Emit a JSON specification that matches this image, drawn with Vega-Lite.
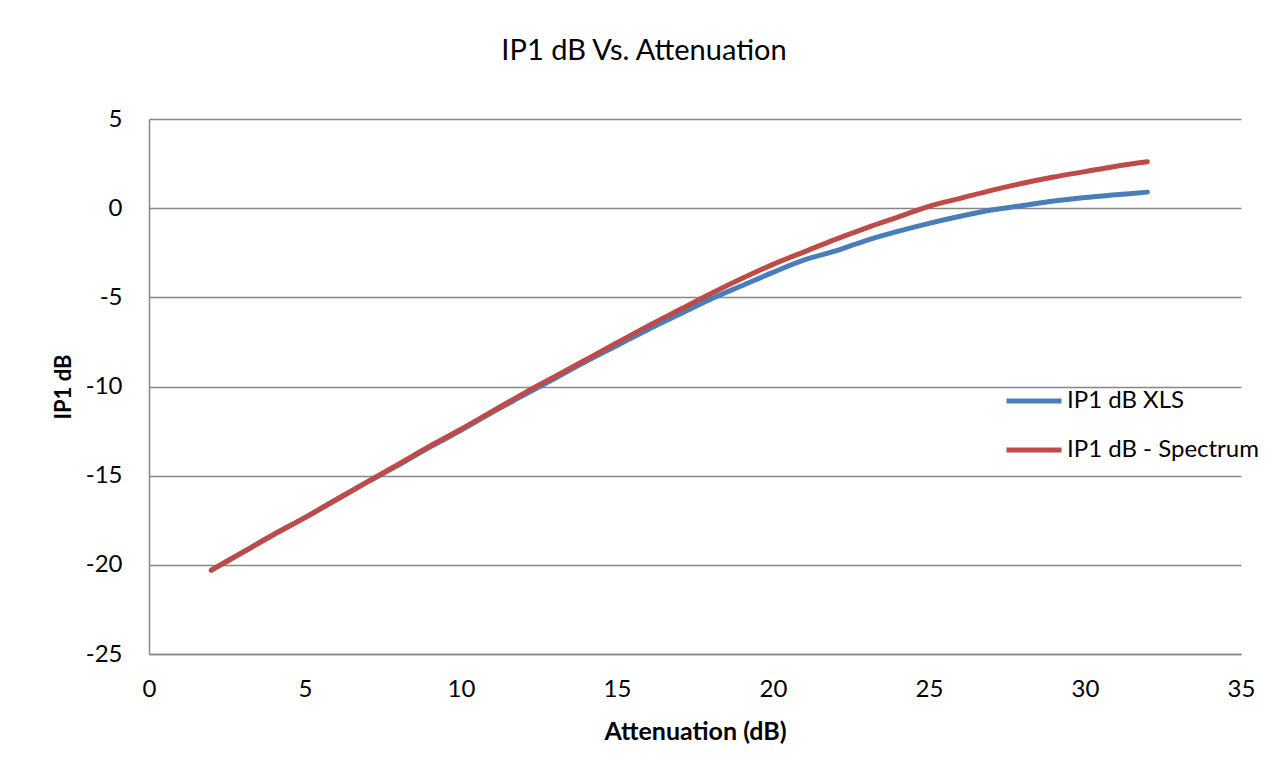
{
  "$schema": "https://vega.github.io/schema/vega-lite/v6.json",
  "width": 1092,
  "height": 535,
  "autosize": "none",
  "padding": {"left": 149, "top": 119, "right": 46, "bottom": 115},
  "background": "white",
  "title": {"text": "IP1 dB Vs. Attenuation", "font": "Lato", "fontSize": 29, "fontWeight": "normal", "color": "#000000", "anchor": "middle", "dx": -51, "offset": 41},
  "config": {
    "view": {"stroke": null},
    "axis": {"labelFont": "Lato", "titleFont": "Lato", "labelColor": "#000000", "titleColor": "#000000", "labelFlush": false}
  },
  "data": {"values": [
    {"x": 2, "y": -20.3, "s": "IP1 dB XLS"},
    {"x": 3, "y": -19.3, "s": "IP1 dB XLS"},
    {"x": 4, "y": -18.3, "s": "IP1 dB XLS"},
    {"x": 5, "y": -17.35, "s": "IP1 dB XLS"},
    {"x": 6, "y": -16.35, "s": "IP1 dB XLS"},
    {"x": 7, "y": -15.35, "s": "IP1 dB XLS"},
    {"x": 8, "y": -14.4, "s": "IP1 dB XLS"},
    {"x": 9, "y": -13.4, "s": "IP1 dB XLS"},
    {"x": 10, "y": -12.45, "s": "IP1 dB XLS"},
    {"x": 11, "y": -11.45, "s": "IP1 dB XLS"},
    {"x": 12, "y": -10.5, "s": "IP1 dB XLS"},
    {"x": 13, "y": -9.55, "s": "IP1 dB XLS"},
    {"x": 14, "y": -8.6, "s": "IP1 dB XLS"},
    {"x": 15, "y": -7.7, "s": "IP1 dB XLS"},
    {"x": 16, "y": -6.8, "s": "IP1 dB XLS"},
    {"x": 17, "y": -5.95, "s": "IP1 dB XLS"},
    {"x": 18, "y": -5.1, "s": "IP1 dB XLS"},
    {"x": 19, "y": -4.35, "s": "IP1 dB XLS"},
    {"x": 20, "y": -3.6, "s": "IP1 dB XLS"},
    {"x": 21, "y": -2.9, "s": "IP1 dB XLS"},
    {"x": 22, "y": -2.4, "s": "IP1 dB XLS"},
    {"x": 23, "y": -1.8, "s": "IP1 dB XLS"},
    {"x": 24, "y": -1.3, "s": "IP1 dB XLS"},
    {"x": 25, "y": -0.85, "s": "IP1 dB XLS"},
    {"x": 26, "y": -0.45, "s": "IP1 dB XLS"},
    {"x": 27, "y": -0.1, "s": "IP1 dB XLS"},
    {"x": 28, "y": 0.15, "s": "IP1 dB XLS"},
    {"x": 29, "y": 0.4, "s": "IP1 dB XLS"},
    {"x": 30, "y": 0.6, "s": "IP1 dB XLS"},
    {"x": 31, "y": 0.75, "s": "IP1 dB XLS"},
    {"x": 32, "y": 0.9, "s": "IP1 dB XLS"},
    {"x": 2, "y": -20.3, "s": "IP1 dB - Spectrum"},
    {"x": 3, "y": -19.3, "s": "IP1 dB - Spectrum"},
    {"x": 4, "y": -18.3, "s": "IP1 dB - Spectrum"},
    {"x": 5, "y": -17.35, "s": "IP1 dB - Spectrum"},
    {"x": 6, "y": -16.35, "s": "IP1 dB - Spectrum"},
    {"x": 7, "y": -15.35, "s": "IP1 dB - Spectrum"},
    {"x": 8, "y": -14.35, "s": "IP1 dB - Spectrum"},
    {"x": 9, "y": -13.35, "s": "IP1 dB - Spectrum"},
    {"x": 10, "y": -12.4, "s": "IP1 dB - Spectrum"},
    {"x": 11, "y": -11.4, "s": "IP1 dB - Spectrum"},
    {"x": 12, "y": -10.4, "s": "IP1 dB - Spectrum"},
    {"x": 13, "y": -9.45, "s": "IP1 dB - Spectrum"},
    {"x": 14, "y": -8.5, "s": "IP1 dB - Spectrum"},
    {"x": 15, "y": -7.55, "s": "IP1 dB - Spectrum"},
    {"x": 16, "y": -6.6, "s": "IP1 dB - Spectrum"},
    {"x": 17, "y": -5.7, "s": "IP1 dB - Spectrum"},
    {"x": 18, "y": -4.8, "s": "IP1 dB - Spectrum"},
    {"x": 19, "y": -3.95, "s": "IP1 dB - Spectrum"},
    {"x": 20, "y": -3.15, "s": "IP1 dB - Spectrum"},
    {"x": 21, "y": -2.45, "s": "IP1 dB - Spectrum"},
    {"x": 22, "y": -1.75, "s": "IP1 dB - Spectrum"},
    {"x": 23, "y": -1.1, "s": "IP1 dB - Spectrum"},
    {"x": 24, "y": -0.5, "s": "IP1 dB - Spectrum"},
    {"x": 25, "y": 0.1, "s": "IP1 dB - Spectrum"},
    {"x": 26, "y": 0.55, "s": "IP1 dB - Spectrum"},
    {"x": 27, "y": 1.0, "s": "IP1 dB - Spectrum"},
    {"x": 28, "y": 1.4, "s": "IP1 dB - Spectrum"},
    {"x": 29, "y": 1.75, "s": "IP1 dB - Spectrum"},
    {"x": 30, "y": 2.05, "s": "IP1 dB - Spectrum"},
    {"x": 31, "y": 2.35, "s": "IP1 dB - Spectrum"},
    {"x": 32, "y": 2.6, "s": "IP1 dB - Spectrum"}
  ]},
  "mark": {"type": "line", "interpolate": "monotone", "strokeWidth": 5, "strokeCap": "round", "strokeJoin": "round"},
  "encoding": {
    "x": {"field": "x", "type": "quantitative",
      "scale": {"domain": [0, 35], "nice": false, "zero": false},
      "axis": {"values": [0, 5, 10, 15, 20, 25, 30, 35], "title": "Attenuation (dB)", "titleFontSize": 25, "titleFontWeight": "bold", "titlePadding": 18,
        "labelFontSize": 24, "labelPadding": 23, "ticks": false, "grid": false, "domainColor": "#868686", "domainWidth": 1.5}},
    "y": {"field": "y", "type": "quantitative",
      "scale": {"domain": [-25, 5], "nice": false, "zero": false},
      "axis": {"values": [-25, -20, -15, -10, -5, 0, 5], "labelExpr": "toString(datum.value)", "title": "IP1 dB", "titleFontSize": 22, "titleFontWeight": "bold", "titlePadding": 10,
        "labelFontSize": 24, "labelPadding": 27, "ticks": false, "grid": true, "gridColor": "#868686", "gridWidth": 1.5, "gridOpacity": 1, "domainColor": "#868686", "domainWidth": 1.5}},
    "color": {"field": "s", "type": "nominal",
      "scale": {"domain": ["IP1 dB XLS", "IP1 dB - Spectrum"], "range": ["#4A7EBB", "#BE4B48"]},
      "legend": {"title": null, "orient": "none", "legendX": 855, "legendY": 252, "symbolType": "stroke", "symbolSize": 3025, "symbolStrokeWidth": 5,
        "labelFont": "Lato", "labelFontSize": 24, "labelColor": "#000000", "labelOffset": 3, "rowPadding": 7, "labelLimit": 400}}
  }
}
